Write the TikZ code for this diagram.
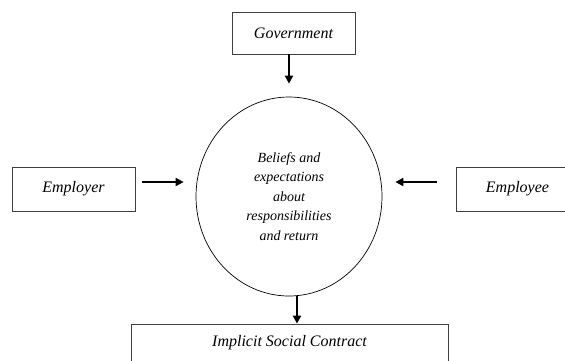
\documentclass[tikz,border=0pt]{standalone}
\usepackage{fontspec}
\setmainfont{Liberation Serif}
\usetikzlibrary{shapes.geometric,arrows.meta}
\begin{document}
\begin{tikzpicture}[x=1pt, y=-1pt,
  party/.style={draw=black!75, line width=0.8pt, inner sep=0pt, font=\fontsize{16}{19}\selectfont\itshape},
  beliefs/.style={ellipse, draw, line width=0.7pt, inner sep=0pt, minimum width=186pt, minimum height=199pt, align=center, font=\fontsize{14}{19.5}\selectfont\itshape},
  arr/.style={line width=1.8pt, -{Triangle[length=8pt,width=8pt]}}]
\useasboundingbox (0,0) rectangle (565,360);
\node[party, minimum width=123pt, minimum height=42pt] (gov) at (293.5,33){Government};
\node[party, minimum width=123pt, minimum height=44pt] (employer) at (73.5,189){Employer};
\node[party, minimum width=123pt, minimum height=44pt] (employee) at (517.5,189){Employee};
\node[beliefs] (belief) at (289,196.5){Beliefs and\\expectations\\about\\responsibilities\\and return};
\node[party, minimum width=317pt, minimum height=38pt] (contract) at (289.5,343){Implicit Social Contract};
\draw[arr, shorten >=13pt](belief.north |- gov.south) -- (belief.north);
\draw[arr, shorten <=7pt, shorten >=12pt]([yshift=7pt]employer.east) -- ([yshift=7pt]employer.east -| belief.west);
\draw[arr, shorten <=19pt, shorten >=13pt]([yshift=7pt]employee.west) -- ([yshift=7pt]employee.west -| belief.east);
\draw[arr]([xshift=8pt]belief.south) -- ([xshift=8pt]belief.south |- contract.north);
\end{tikzpicture}
\end{document}
